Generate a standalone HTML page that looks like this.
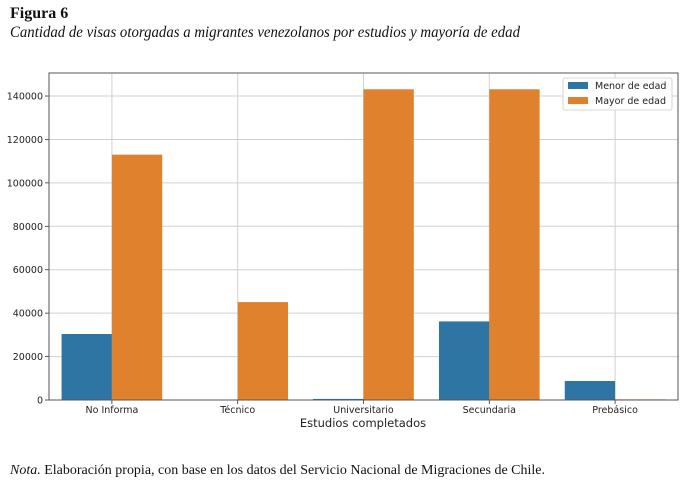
<!DOCTYPE html>
<html><head><meta charset="utf-8"><style>
html,body{margin:0;padding:0;background:#fff;width:699px;height:483px;overflow:hidden}
</style></head><body>
<svg id="chart" width="699" height="483" xmlns="http://www.w3.org/2000/svg" font-family="DejaVu Sans, sans-serif">
<text x="10" y="18" font-family="Liberation Serif, serif" font-weight="bold" font-size="16" fill="#111">Figura 6</text>
<text x="10" y="37" font-family="Liberation Serif, serif" font-style="italic" font-size="16" fill="#111" textLength="510" lengthAdjust="spacingAndGlyphs">Cantidad de visas otorgadas a migrantes venezolanos por estudios y mayoría de edad</text>
<g id="grid"></g>
<g id="bars"></g>
<g id="axes"></g>
<text x="363" y="427" text-anchor="middle" font-size="11.5" fill="#222">Estudios completados</text>
<g>
<rect x="563" y="78" width="109" height="32" fill="#fff" stroke="#ccc" stroke-width="0.8" rx="2"/>
<rect x="568" y="82" width="20" height="7" fill="#2e75a4"/>
<text x="595" y="89" font-size="9.5" fill="#222">Menor de edad</text>
<rect x="568" y="97" width="20" height="7" fill="#e0812e"/>
<text x="595" y="104" font-size="9.5" fill="#222">Mayor de edad</text>
</g>
<text x="10" y="474" font-family="Liberation Serif, serif" font-size="14" fill="#111" textLength="535" lengthAdjust="spacingAndGlyphs"><tspan font-style="italic">Nota.</tspan> Elaboración propia, con base en los datos del Servicio Nacional de Migraciones de Chile.</text>
</svg>
<script>
const categories = ["No Informa","Técnico","Universitario","Secundaria","Prebásico"];
const menorValues = [30400, 0, 500, 36200, 8750];
const mayorValues = [113000, 45100, 143100, 143100, 300];
const yTicks = [0,20000,40000,60000,80000,100000,120000,140000];
const yMax = 150600;
const L=49,R=678,T=73,B=400;
const NS="http://www.w3.org/2000/svg";
const band=(R-L)/categories.length;
function xCenter(i){return L+band*(i+0.5);}
function y(v){return B-(v/yMax)*(B-T);}
function mk(tag,attrs,parent){const e=document.createElementNS(NS,tag);for(const k in attrs)e.setAttribute(k,attrs[k]);document.getElementById(parent).appendChild(e);return e;}
yTicks.forEach((t,i)=>{
  const g=mk('line',{x1:L,x2:R,y1:y(t),y2:y(t),stroke:'#d0d0d0','stroke-width':1},'grid');
  
  
  const tk=mk('line',{x1:L-4,x2:L,y1:y(t),y2:y(t),stroke:'#333','stroke-width':0.8},'axes');
  
  
  const lb=mk('text',{x:L-6,y:y(t)+3.5,'text-anchor':'end','font-size':9.5,fill:'#222'},'axes');
  lb.textContent=t;
  
  
});
categories.forEach((c,i)=>{
  const cx=xCenter(i);
  const g=mk('line',{x1:cx,x2:cx,y1:T,y2:B,stroke:'#d0d0d0','stroke-width':1},'grid');
  
  
  const w=band*0.4;
  const b1=mk('rect',{x:cx-w,y:y(menorValues[i]),width:w,height:B-y(menorValues[i]),fill:'#2e75a4'},'bars');
  
  
  const b2=mk('rect',{x:cx,y:y(mayorValues[i]),width:w,height:B-y(mayorValues[i]),fill:'#e0812e'},'bars');
  
  
  const tk=mk('line',{x1:cx,x2:cx,y1:B,y2:B+4,stroke:'#333','stroke-width':0.8},'axes');
  
  
  const lb=mk('text',{x:cx,y:B+13,'text-anchor':'middle','font-size':9.5,fill:'#222'},'axes');
  lb.textContent=c;
  
  
});
const fr=mk('rect',{x:L,y:T,width:R-L,height:B-T,fill:'none',stroke:'#555','stroke-width':1},'axes');


</script>
</body></html>
